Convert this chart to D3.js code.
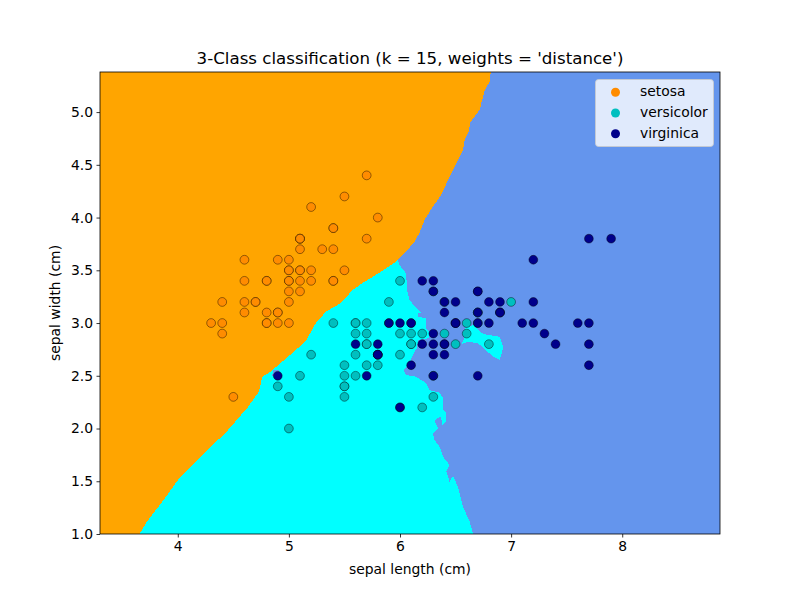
<!DOCTYPE html>
<html>
<head>
<meta charset="utf-8">
<script src="https://cdn.jsdelivr.net/npm/d3@7"></script>
<style>
  html, body { margin: 0; padding: 0; background: #fff; }
  text { font-family: "DejaVu Sans", sans-serif; fill: #000; }
</style>
</head>
<body>
<svg id="chart" width="800" height="600"></svg>
<script>
// iris measurements, [sepal length, sepal width]
var setosa = [[5.1,3.5],[4.9,3.0],[4.7,3.2],[4.6,3.1],[5.0,3.6],[5.4,3.9],[4.6,3.4],[5.0,3.4],[4.4,2.9],[4.9,3.1],[5.4,3.7],[4.8,3.4],[4.8,3.0],[4.3,3.0],[5.8,4.0],[5.7,4.4],[5.4,3.9],[5.1,3.5],[5.7,3.8],[5.1,3.8],[5.4,3.4],[5.1,3.7],[4.6,3.6],[5.1,3.3],[4.8,3.4],[5.0,3.0],[5.0,3.4],[5.2,3.5],[5.2,3.4],[4.7,3.2],[4.8,3.1],[5.4,3.4],[5.2,4.1],[5.5,4.2],[4.9,3.1],[5.0,3.2],[5.5,3.5],[4.9,3.6],[4.4,3.0],[5.1,3.4],[5.0,3.5],[4.5,2.3],[4.4,3.2],[5.0,3.5],[5.1,3.8],[4.8,3.0],[5.1,3.8],[4.6,3.2],[5.3,3.7],[5.0,3.3]];
var versicolor = [[7.0,3.2],[6.4,3.2],[6.9,3.1],[5.5,2.3],[6.5,2.8],[5.7,2.8],[6.3,3.3],[4.9,2.4],[6.6,2.9],[5.2,2.7],[5.0,2.0],[5.9,3.0],[6.0,2.2],[6.1,2.9],[5.6,2.9],[6.7,3.1],[5.6,3.0],[5.8,2.7],[6.2,2.2],[5.6,2.5],[5.9,3.2],[6.1,2.8],[6.3,2.5],[6.1,2.8],[6.4,2.9],[6.6,3.0],[6.8,2.8],[6.7,3.0],[6.0,2.9],[5.7,2.6],[5.5,2.4],[5.5,2.4],[5.8,2.7],[6.0,2.7],[5.4,3.0],[6.0,3.4],[6.7,3.1],[6.3,2.3],[5.6,3.0],[5.5,2.5],[5.5,2.6],[6.1,3.0],[5.8,2.6],[5.0,2.3],[5.6,2.7],[5.7,3.0],[5.7,2.9],[6.2,2.9],[5.1,2.5],[5.7,2.8]];
var virginica = [[6.3,3.3],[5.8,2.7],[7.1,3.0],[6.3,2.9],[6.5,3.0],[7.6,3.0],[4.9,2.5],[7.3,2.9],[6.7,2.5],[7.2,3.6],[6.5,3.2],[6.4,2.7],[6.8,3.0],[5.7,2.5],[5.8,2.8],[6.4,3.2],[6.5,3.0],[7.7,3.8],[7.7,2.6],[6.0,2.2],[6.9,3.2],[5.6,2.8],[7.7,2.8],[6.3,2.7],[6.7,3.3],[7.2,3.2],[6.2,2.8],[6.1,3.0],[6.4,2.8],[7.2,3.0],[7.4,2.8],[7.9,3.8],[6.4,2.8],[6.3,2.8],[6.1,2.6],[7.7,3.0],[6.3,3.4],[6.4,3.1],[6.0,3.0],[6.9,3.1],[6.7,3.1],[6.9,3.1],[5.8,2.7],[6.8,3.2],[6.7,3.3],[6.7,3.0],[6.3,2.5],[6.5,3.0],[6.2,3.4],[5.9,3.0]];

// decision boundaries, in data units
var orangeEdge = [[6.817,5.38],[6.808,5.288],[6.763,5.209],[6.739,5.114],[6.717,5.02],[6.636,4.909],[6.618,4.814],[6.582,4.735],[6.567,4.641],[6.507,4.517],[6.432,4.356],[6.371,4.214],[6.296,4.103],[6.221,3.977],[6.175,3.854],[6.13,3.771],[6.055,3.676],[5.98,3.598],[5.95,3.572],[5.829,3.487],[5.664,3.38],[5.574,3.313],[5.468,3.19],[5.333,3.107],[5.242,2.998],[5.152,2.83],[5.062,2.744],[4.926,2.621],[4.836,2.539],[4.761,2.491],[4.73,2.349],[4.625,2.195],[4.429,1.958],[4.219,1.749],[4.023,1.543],[3.872,1.322],[3.722,1.117],[3.655,1.0]];
var cyanEdge = [[5.98,3.598],[5.995,3.55],[6.055,3.472],[6.064,3.313],[6.085,3.218],[6.146,3.143],[6.191,3.102],[6.161,3.092],[6.161,3.06],[6.236,3.045],[6.236,2.95],[6.266,2.918],[6.257,2.855],[6.161,2.839],[6.155,2.77],[6.116,2.697],[6.085,2.618],[6.031,2.555],[6.055,2.507],[6.146,2.491],[6.236,2.429],[6.266,2.365],[6.356,2.34],[6.387,2.287],[6.387,2.176],[6.417,2.144],[6.417,2.065],[6.378,2.024],[6.371,2.112],[6.335,2.097],[6.311,2.065],[6.342,2.002],[6.296,1.955],[6.311,1.891],[6.356,1.828],[6.387,1.733],[6.446,1.654],[6.417,1.591],[6.446,1.496],[6.477,1.55],[6.522,1.448],[6.567,1.259],[6.627,1.117],[6.658,1.0]];
var cyanBlob = [[6.552,2.801],[6.576,2.846],[6.588,2.95],[6.658,2.981],[6.748,2.896],[6.898,2.87],[6.929,2.77],[6.898,2.65],[6.838,2.681],[6.703,2.808],[6.613,2.823]];
var blueSpot = [[4.85,2.5],[4.86,2.55],[4.9,2.56],[4.93,2.52],[4.9,2.47]];

var xTicks = [4, 5, 6, 7, 8];
var yTicks = [1.0, 1.5, 2.0, 2.5, 3.0, 3.5, 4.0, 4.5, 5.0];
var xMin = 3.3, xMax = 8.88, yMin = 1.0, yMax = 5.38;

var svg = d3.select("#chart");
var margin = {left: 100, right: 80, top: 72, bottom: 66};

var x = d3.scaleLinear().domain([xMin, xMax]).range([margin.left, 800 - margin.right]);
var y = d3.scaleLinear().domain([yMin, yMax]).range([600 - margin.bottom, margin.top]);

var line = d3.line().x(d => x(d[0])).y(d => y(d[1]));

// regions, crisp so the edges stay hard like the mesh in the original
var regions = svg.append("g").attr("shape-rendering", "crispEdges");

regions.append("rect")
    .attr("x", x(xMin)).attr("y", y(yMax))
    .attr("width", x(xMax) - x(xMin)).attr("height", y(yMin) - y(yMax))
    .attr("fill", "#6495ed");

var cyanShape = orangeEdge.slice(17).reverse().concat(cyanEdge);
regions.append("path").attr("d", line(cyanShape) + "Z").attr("fill", "#00ffff");
regions.append("path").attr("d", line(cyanBlob) + "Z").attr("fill", "#00ffff");
regions.append("path").attr("d", line(blueSpot) + "Z").attr("fill", "#6495ed");

var orangeShape = [[xMin, yMax]].concat(orangeEdge).concat([[xMin, yMin]]);
regions.append("path").attr("d", line(orangeShape) + "Z").attr("fill", "#ffa500");

// points
var classes = [
    {name: "setosa", color: "#ff8c00", points: setosa},
    {name: "versicolor", color: "#00bfbf", points: versicolor},
    {name: "virginica", color: "#00008b", points: virginica}
];

classes.forEach(c => {
    svg.append("g").selectAll("circle")
        .data(c.points)
        .join("circle")
        .attr("cx", d => x(d[0]))
        .attr("cy", d => y(d[1]))
        .attr("r", 4.4)
        .attr("fill", c.color)
        .attr("stroke", "#000")
        .attr("stroke-opacity", 0.7)
        .attr("stroke-width", 0.6);
});

// axes
var xAxis = d3.axisBottom(x).tickValues(xTicks).tickFormat(d3.format("d")).tickSize(3.5).tickPadding(3.5);
var yAxis = d3.axisLeft(y).tickValues(yTicks).tickFormat(d3.format(".1f")).tickSize(3.5).tickPadding(3.5);

var gx = svg.append("g").attr("transform", `translate(0,${y(yMin)})`).call(xAxis);
var gy = svg.append("g").attr("transform", `translate(${x(xMin)},0)`).call(yAxis);

[gx, gy].forEach(g => {
    g.select(".domain").remove();
    g.selectAll("line").attr("stroke", "#000").attr("stroke-width", 0.8);
    g.selectAll("text").attr("font-family", "DejaVu Sans").attr("font-size", 13.9);
});

svg.append("rect")
    .attr("x", x(xMin)).attr("y", y(yMax))
    .attr("width", x(xMax) - x(xMin)).attr("height", y(yMin) - y(yMax))
    .attr("fill", "none").attr("stroke", "#000").attr("stroke-width", 0.8);

// labels
svg.append("text").attr("x", 410).attr("y", 64).attr("text-anchor", "middle").attr("font-size", 16.67)
    .text("3-Class classification (k = 15, weights = 'distance')");
svg.append("text").attr("x", 410).attr("y", 574).attr("text-anchor", "middle").attr("font-size", 13.9)
    .text("sepal length (cm)");
svg.append("text").attr("transform", "translate(60,303) rotate(-90)").attr("text-anchor", "middle").attr("font-size", 13.9)
    .text("sepal width (cm)");

// legend
var legend = svg.append("g");
legend.append("rect")
    .attr("x", 595.5).attr("y", 79.5).attr("width", 118).attr("height", 67).attr("rx", 3)
    .attr("fill", "#fff").attr("fill-opacity", 0.8).attr("stroke", "#ccc").attr("stroke-width", 0.8);

var legendY = d3.scalePoint().domain(classes.map(c => c.name)).range([91, 132.5]);
classes.forEach(c => {
    legend.append("circle").attr("cx", 615.5).attr("cy", legendY(c.name) + 1.3).attr("r", 4.5).attr("fill", c.color);
    legend.append("text").attr("x", 640).attr("y", legendY(c.name) + 5).attr("font-size", 13.9).text(c.name);
});
</script>
</body>
</html>
